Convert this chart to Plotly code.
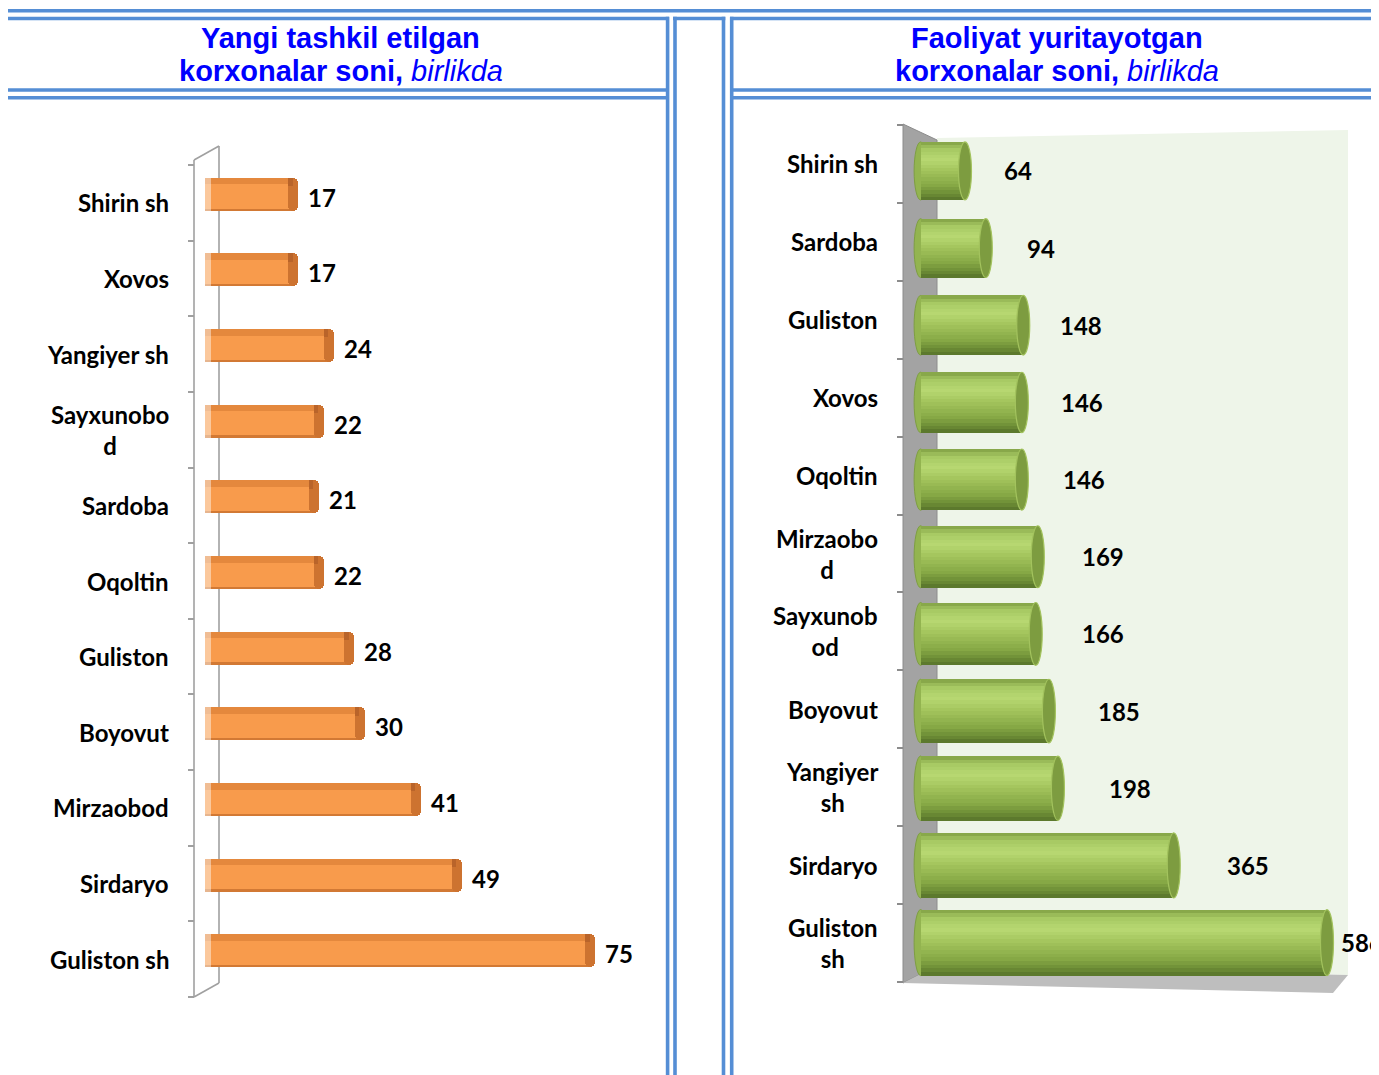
import plotly.graph_objects as go

# ---------------- data ----------------
left_categories = ["Shirin sh", "Xovos", "Yangiyer sh", "Sayxunobo<br>d", "Sardoba", "Oqoltin",
                   "Guliston", "Boyovut", "Mirzaobod", "Sirdaryo", "Guliston sh"]
left_values = [17, 17, 24, 22, 21, 22, 28, 30, 41, 49, 75]

right_categories = ["Shirin sh", "Sardoba", "Guliston", "Xovos", "Oqoltin", "Mirzaobo<br>d",
                    "Sayxunob<br>od", "Boyovut", "Yangiyer<br>sh", "Sirdaryo", "Guliston<br>sh"]
right_values = [64, 94, 148, 146, 146, 169, 166, 185, 198, 365, 586]

left_title_lines = ["<b>Yangi tashkil etilgan</b>", "<b>korxonalar soni,</b> <i>birlikda</i>"]
right_title_lines = ["<b>Faoliyat yuritayotgan</b>", "<b>korxonalar soni,</b> <i>birlikda</i>"]

# ---------------- layout helpers ----------------
PAGE_W, PAGE_H = 1379, 1075
OFF = 8  # default page body margin: the figure sits at (8, 8) on the page
W, H = PAGE_W - OFF, PAGE_H - OFF
BLUE = "#558ED5"
GRAY = "#A0A0A0"
LABEL_FONT = dict(family="Lato, Open Sans, sans-serif", size=24, color="#000000", weight="bold")


def px(x):
    return (x - OFF) / W


def py(y):
    return 1 - (y - OFF) / H


def path(points):
    return "M " + " L ".join(f"{px(x):.5f},{py(y):.5f}" for x, y in points) + " Z"


# left axis geometry (page pixels)
L_ZERO, L_SCALE, L_RIGHT = 205.0, 5.12, 660.0
L_TOP, L_BOT = 165.0, 997.0
L_STEP = (L_BOT - L_TOP) / len(left_categories)
# right axis geometry (page pixels)
R_ZERO, R_SCALE, R_LEFT, R_RIGHT = 920.6, 0.6935, 903.0, 1348.0
R_TOP, R_BOT = 125.0, 982.0
R_STEP = (R_BOT - R_TOP) / len(right_categories)

nL = len(left_categories)
nR = len(right_categories)
posL = list(range(nL))
posR = list(range(nR))

fig = go.Figure()

# ---------------- left chart: orange 3D bars ----------------
wL = 33.0 / L_STEP
cL = -8.5 / L_STEP
common_l = dict(orientation="h", xaxis="x", yaxis="y", hoverinfo="skip", showlegend=False)

fig.add_trace(go.Bar(y=posL, x=left_values, base=[0] * nL, width=[wL] * nL,
                     offset=[cL - wL / 2] * nL, marker=dict(color="#F89B4C", line=dict(width=0)), **common_l))
fig.add_trace(go.Bar(y=posL, x=left_values, base=[0] * nL, width=[wL * 0.2] * nL,
                     offset=[cL - wL / 2] * nL, marker=dict(color="#E4883D", line=dict(width=0)), **common_l))
fig.add_trace(go.Bar(y=posL, x=left_values, base=[0] * nL, width=[wL * 0.07] * nL,
                     offset=[cL + wL / 2 - wL * 0.07] * nL, marker=dict(color="#D27934", line=dict(width=0)), **common_l))
cap_w = 10.0 / L_SCALE
fig.add_trace(go.Bar(y=posL, x=[cap_w] * nL, base=[v - 4.0 / L_SCALE for v in left_values], width=[wL] * nL,
                     offset=[cL - wL / 2] * nL, marker=dict(color="#CD7330", line=dict(width=0), cornerradius=6),
                     **common_l))
fig.add_trace(go.Bar(y=posL, x=[cap_w * 0.45] * nL, base=[v - 4.0 / L_SCALE for v in left_values],
                     width=[wL * 0.25] * nL, offset=[cL - wL / 2] * nL,
                     marker=dict(color="#B9642A", line=dict(width=0)), **common_l))
fig.add_trace(go.Bar(y=posL, x=[6.0 / L_SCALE] * nL, base=[0] * nL, width=[wL] * nL,
                     offset=[cL - wL / 2] * nL, marker=dict(color="rgba(255,255,255,0.45)", line=dict(width=0)),
                     **common_l))

# ---------------- right chart: green cylinders ----------------
stops = [(0.0, (127, 158, 67)), (0.12, (166, 200, 98)), (0.3, (184, 216, 114)), (0.5, (162, 195, 91)),
         (0.75, (134, 168, 69)), (0.9, (107, 139, 53)), (1.0, (86, 114, 42))]


def cyl_color(t):
    for (t0, c0), (t1, c1) in zip(stops[:-1], stops[1:]):
        if t0 <= t <= t1:
            f = (t - t0) / (t1 - t0)
            return "rgb(%d,%d,%d)" % tuple(round(a + (b - a) * f) for a, b in zip(c0, c1))
    return "rgb(%d,%d,%d)" % stops[-1][1]


hR = [(58.0 + 0.8 * i) / R_STEP for i in posR]
cR = [(7.0 - 0.75 * i) / R_STEP for i in posR]
NS = 18
common_r = dict(orientation="h", xaxis="x2", yaxis="y2", hoverinfo="skip", showlegend=False)
for k in range(NS):
    t = (k + 0.5) / NS
    fig.add_trace(go.Bar(y=posR, x=right_values, base=[0] * nR,
                         width=[h / NS * 1.04 for h in hR],
                         offset=[c - h / 2 + k * h / NS for c, h in zip(cR, hR)],
                         marker=dict(color=cyl_color(t), line=dict(width=0)), **common_r))

# ---------------- shapes ----------------
shapes = []
# right chart 3D walls (background)
shapes.append(dict(type="path", xref="paper", yref="paper", layer="below",
                   path=path([(937, 138), (1348, 130), (1348, 975), (937, 966)]),
                   fillcolor="#EEF5E9", line=dict(width=0)))
shapes.append(dict(type="path", xref="paper", yref="paper", layer="below",
                   path=path([(903, 124), (937, 140), (937, 966), (903, 983)]),
                   fillcolor="#A3A3A3", line=dict(color="#8C8C8C", width=1)))
shapes.append(dict(type="path", xref="paper", yref="paper", layer="below",
                   path=path([(903, 983), (937, 966), (1348, 975), (1333, 993)]),
                   fillcolor="#BEBEBE", line=dict(width=0)))

# left wall lines (behind the bars)
for (xa, ya), (xb, yb) in [((194, 160), (194, 997)), ((219, 146), (219, 983)),
                           ((194, 160), (219, 146)), ((194, 997), (219, 983))]:
    shapes.append(dict(type="line", xref="paper", yref="paper", layer="below",
                       x0=px(xa), y0=py(ya), x1=px(xb), y1=py(yb),
                       line=dict(color=GRAY, width=1.6)))

# cylinder ends
ell_half = 6.5 / R_SCALE
for i, v in enumerate(right_values):
    y0 = i + cR[i] - hR[i] / 2
    y1 = i + cR[i] + hR[i] / 2
    shapes.append(dict(type="circle", xref="x2", yref="y2", layer="below",
                       x0=-ell_half, x1=ell_half, y0=y0, y1=y1,
                       fillcolor="#93B450", line=dict(color="#7E9E43", width=1)))
    shapes.append(dict(type="circle", xref="x2", yref="y2", layer="above",
                       x0=v - ell_half, x1=v + ell_half, y0=y0, y1=y1,
                       fillcolor="#7D9C40", line=dict(color="#A3C35E", width=1.2)))

# blue frame lines
lw = 3.6
hlines = [(10.8, 8, 1379), (18.5, 8, 669), (90, 8, 669), (97.8, 8, 669),
          (18.5, 673, 725.3), (18.5, 730, 1379), (90, 730, 1379), (97.8, 730, 1379)]
for y, xa, xb in hlines:
    shapes.append(dict(type="line", xref="paper", yref="paper", x0=px(xa), x1=px(xb), y0=py(y), y1=py(y),
                       line=dict(color=BLUE, width=lw)))
for x in [667.6, 675.0, 723.5, 731.7]:
    shapes.append(dict(type="line", xref="paper", yref="paper", x0=px(x), x1=px(x), y0=py(16.7), y1=py(1090),
                       line=dict(color=BLUE, width=lw)))

# ---------------- annotations ----------------
ann = []
title_font = dict(family="Liberation Sans, Arial, sans-serif", size=29, color="#0000FF")
for lines, xc in [(left_title_lines, 340.5), (right_title_lines, 1056.5)]:
    for txt, yc in zip(lines, [38.5, 71.5]):
        ann.append(dict(text=txt, xref="paper", yref="paper", x=px(xc), y=py(yc), xanchor="center",
                        yanchor="middle", showarrow=False, font=title_font, align="center"))

for i, (cat, v) in enumerate(zip(left_categories, left_values)):
    ann.append(dict(text=cat, xref="paper", yref="y", x=px(171), y=i, xanchor="right", yanchor="middle",
                    align="center", showarrow=False, font=LABEL_FONT))
    ann.append(dict(text=str(v), xref="x", yref="y", x=v, y=i - 5.5 / L_STEP, xanchor="left",
                    yanchor="middle", xshift=14, showarrow=False, font=LABEL_FONT))

for i, (cat, v) in enumerate(zip(right_categories, right_values)):
    ann.append(dict(text=cat, xref="paper", yref="y2", x=px(880), y=i, xanchor="right", yanchor="middle",
                    align="center", showarrow=False, font=LABEL_FONT))
    end_px = R_ZERO + v * R_SCALE
    shift = min(53 + 2.4 * i, 1362 - end_px)
    ann.append(dict(text=str(v), xref="x2", yref="y2", x=v, y=i + cR[i], xanchor="center",
                    yanchor="middle", xshift=shift, showarrow=False, font=LABEL_FONT))

# ---------------- axes ----------------
bounds_l = [i - 0.5 for i in range(nL + 1)]
bounds_r = [i - 0.5 for i in range(nR + 1)]

fig.update_layout(
    width=W, height=H,
    margin=dict(l=0, r=0, t=0, b=0),
    paper_bgcolor="white", plot_bgcolor="rgba(0,0,0,0)",
    barmode="overlay", bargap=0,
    showlegend=False,
    xaxis=dict(domain=[px(L_ZERO), px(L_RIGHT)], range=[0, (L_RIGHT - L_ZERO) / L_SCALE], visible=False,
               anchor="y", fixedrange=True),
    yaxis=dict(domain=[py(L_BOT), py(L_TOP)], range=[nL - 0.5, -0.5], anchor="free", position=px(194),
               tickmode="array", tickvals=bounds_l, ticks="outside", ticklen=6, tickwidth=1.5, tickcolor=GRAY,
               showticklabels=False, showline=False, showgrid=False, zeroline=False, fixedrange=True),
    xaxis2=dict(domain=[px(R_LEFT), px(R_RIGHT)], range=[(R_LEFT - R_ZERO) / R_SCALE, (R_RIGHT - R_ZERO) / R_SCALE],
                visible=False, anchor="y2", fixedrange=True),
    yaxis2=dict(domain=[py(R_BOT), py(R_TOP)], range=[nR - 0.5, -0.5], anchor="free", position=px(903),
                tickmode="array", tickvals=bounds_r, ticks="outside", ticklen=6, tickwidth=1.5, tickcolor="#8C8C8C",
                showticklabels=False, showline=False, showgrid=False, zeroline=False, fixedrange=True),
    shapes=shapes,
    annotations=ann,
)

fig.write_html("out.html")
